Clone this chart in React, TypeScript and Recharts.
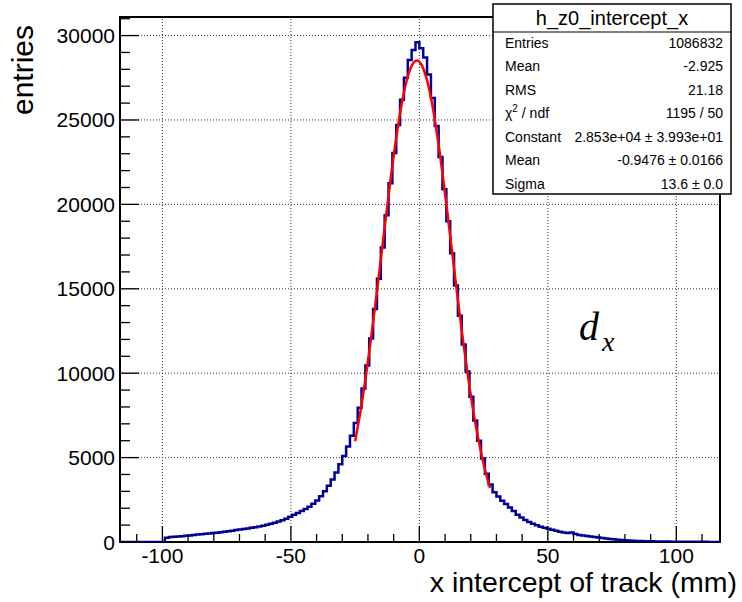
import React from 'react';
import { ComposedChart, Line, XAxis, YAxis, ReferenceLine, ReferenceArea } from 'recharts';

// Histogram definition (bin edges start at X_MIN, width BIN_WIDTH)
const X_MIN = -117;
const BIN_WIDTH = 1.5;
const binCounts = [
  0, 0, 0, 0, 0, 0, 0, 0, 0, 0, 0, 0,
  250, 290, 310, 330, 345, 370, 390, 410, 440, 465, 490, 510, 530, 555, 580, 610, 640, 670, 710, 740,
  770, 800, 840, 880, 920, 970, 1020, 1080, 1140, 1210, 1290, 1380, 1500, 1610, 1720, 1830, 1950, 2090,
  2260, 2460, 2710, 3000, 3330, 3700, 4120, 4600, 5100, 5650, 6300, 7050, 7950, 9100, 10450, 12050,
  13800, 15600, 17450, 19350, 21250, 23050, 24700, 26200, 27500, 28550, 29150, 29600, 29250, 28700,
  27700, 26300, 24650, 22800, 20900, 19000, 17100, 15200, 13400, 11700, 10100, 8600, 7200, 6000, 4950,
  4050, 3400, 2950, 2700, 2450, 2250, 2050, 1830, 1620, 1450, 1310, 1190, 1080, 990, 910, 840, 780,
  720, 660, 610, 560, 540, 560, 470, 420, 380, 350, 320, 290, 260, 235, 210, 185, 160, 140, 120, 105,
  90, 75, 65, 55, 50, 45, 40, 36, 32, 28, 25, 22, 20, 18, 16, 14, 12, 11, 10, 9, 8, 7, 6, 5,
];

// Gaussian fit curve
const fitX = [-25, -23, -21, -19, -17, -15, -13, -11, -9, -7, -5, -3, -1, 1, 3, 5, 7, 9, 11, 13, 15, 17, 19, 21, 23, 25, 27, 27.5];
const fitY = [5975, 7666, 9623, 11826, 14220, 16733, 19269, 21711, 23945, 25842, 27292, 28208, 28530, 28239, 27352, 25925, 24048, 21831, 19395, 16859, 14342, 11940, 9729, 7757, 6051, 4622, 3452, 3199];

const xMajorTicks = [-100, -50, 0, 50, 100];
const xAllTicks = [-110, -100, -90, -80, -70, -60, -50, -40, -30, -20, -10, 0, 10, 20, 30, 40, 50, 60, 70, 80, 90, 100, 110];
const yMajorTicks = [0, 5000, 10000, 15000, 20000, 25000, 30000];
const yAllTicks = [0, 1000, 2000, 3000, 4000, 5000, 6000, 7000, 8000, 9000, 10000, 11000, 12000, 13000, 14000, 15000,
  16000, 17000, 18000, 19000, 20000, 21000, 22000, 23000, 24000, 25000, 26000, 27000, 28000, 29000, 30000, 31000];

const X_DOMAIN: [number, number] = [-116.5, 117];
const Y_DOMAIN: [number, number] = [0, 31100];

const statsTitle = 'h_z0_intercept_x';
const statsLabels = ['Entries', 'Mean', 'RMS', 'CHI', 'Constant', 'Mean', 'Sigma'];
const statsValues = ['1086832', '-2.925', '21.18', '1195 / 50', '2.853e+04 \u00b1 3.993e+01', '-0.9476 \u00b1 0.0166', '13.6 \u00b1 0.0'];

const xTitle = 'x intercept of track (mm)';
const yTitle = 'entries';

const FONT = '"Liberation Sans", Arial, Helvetica, sans-serif';

const histData = [
  ...binCounts.map((c, i) => ({ x: X_MIN + i * BIN_WIDTH, h: c })),
  { x: X_MIN + binCounts.length * BIN_WIDTH, h: binCounts[binCounts.length - 1] },
];
const fitData = fitX.map((x, i) => ({ x, f: fitY[i] }));

const XTick = (props: any) => {
  const { x, y, payload } = props;
  const v = payload.value;
  const major = xMajorTicks.includes(v);
  return (
    <g>
      <line x1={x} x2={x} y1={y} y2={y - (major ? 16 : 8)} stroke="#000" strokeWidth={1.3} />
      {major && (
        <text x={x} y={y + 21} textAnchor="middle" fontSize={21} fontFamily={FONT} fill="#000">
          {v}
        </text>
      )}
    </g>
  );
};

const YTick = (props: any) => {
  const { x, y, payload } = props;
  const v = payload.value;
  const major = yMajorTicks.includes(v);
  return (
    <g>
      <line x1={x} x2={x + (major ? 19 : 10)} y1={y} y2={y} stroke="#000" strokeWidth={1.3} />
      {major && (
        <text x={x - 5} y={y} textAnchor="end" dominantBaseline="central" fontSize={21} fontFamily={FONT} fill="#000">
          {v}
        </text>
      )}
    </g>
  );
};

export default function App() {
  const rowY0 = 47.5;
  const rowStep = 23.5;
  return (
    <div style={{ position: 'fixed', left: 0, top: 0, width: 742, height: 602, background: '#fff' }}>
      <ComposedChart
        width={742}
        height={602}
        data={histData}
        margin={{ top: 17, right: 22, bottom: 0, left: 0 }}
      >
        <XAxis
          dataKey="x"
          type="number"
          domain={X_DOMAIN}
          allowDataOverflow
          ticks={xAllTicks}
          interval={0}
          tick={<XTick />}
          tickLine={false}
          axisLine={false}
          tickSize={0}
          tickMargin={0}
          height={60}
        />
        <YAxis
          type="number"
          domain={Y_DOMAIN}
          allowDataOverflow
          ticks={yAllTicks}
          interval={0}
          tick={<YTick />}
          tickLine={false}
          axisLine={false}
          tickSize={0}
          tickMargin={0}
          width={120}
        />
        {xMajorTicks.map((v) => (
          <ReferenceLine key={'gx' + v} x={v} stroke="#333" strokeDasharray="1 2" strokeWidth={1} />
        ))}
        {yMajorTicks.filter((v) => v > 0).map((v) => (
          <ReferenceLine key={'gy' + v} y={v} stroke="#333" strokeDasharray="1 2" strokeWidth={1} />
        ))}
        <Line
          dataKey="h"
          type="stepAfter"
          stroke="#000099"
          strokeWidth={2.5}
          dot={false}
          isAnimationActive={false}
        />
        <Line
          data={fitData}
          dataKey="f"
          type="monotone"
          stroke="#ff0000"
          strokeWidth={2.5}
          dot={false}
          isAnimationActive={false}
        />
        <ReferenceArea
          x1={X_DOMAIN[0]}
          x2={X_DOMAIN[1]}
          y1={Y_DOMAIN[0]}
          y2={Y_DOMAIN[1]}
          fill="none"
          fillOpacity={0}
          stroke="#000"
          strokeWidth={2}
          ifOverflow="visible"
        />
      </ComposedChart>
      <svg
        width={742}
        height={602}
        style={{ position: 'absolute', left: 0, top: 0, pointerEvents: 'none' }}
      >
        <text x={737} y={592} textAnchor="end" fontSize={28.5} fontFamily={FONT} fill="#000">
          {xTitle}
        </text>
        <text
          x={33}
          y={25}
          transform="rotate(-90 33 25)"
          textAnchor="end"
          fontSize={30}
          fontFamily={FONT}
          fill="#000"
        >
          {yTitle}
        </text>
        <text x={579} y={340} fontSize={40} fontStyle="italic" fontFamily='"Liberation Serif", "Times New Roman", serif' fill="#000">
          d
          <tspan dx={3} dy={11} fontSize={28}>x</tspan>
        </text>
        <rect x={493} y={4} width={238} height={190} fill="#fff" stroke="#000" strokeWidth={1.5} />
        <line x1={493} x2={731} y1={32} y2={32} stroke="#000" strokeWidth={1.2} />
        <text x={612} y={25} textAnchor="middle" fontSize={20} fontFamily={FONT} fill="#000">
          {statsTitle}
        </text>
        {statsLabels.map((l, i) => (
          <g key={'s' + i}>
            <text x={505} y={rowY0 + i * rowStep} fontSize={14} fontFamily={FONT} fill="#000">
              {l === 'CHI' ? (
                <>
                  <tspan>{'\u03c7'}</tspan>
                  <tspan dy={-6} fontSize={10}>2</tspan>
                  <tspan dy={6}>{' / ndf'}</tspan>
                </>
              ) : (
                l
              )}
            </text>
            <text x={723} y={rowY0 + i * rowStep} textAnchor="end" fontSize={14} fontFamily={FONT} fill="#000">
              {statsValues[i]}
            </text>
          </g>
        ))}
      </svg>
    </div>
  );
}
